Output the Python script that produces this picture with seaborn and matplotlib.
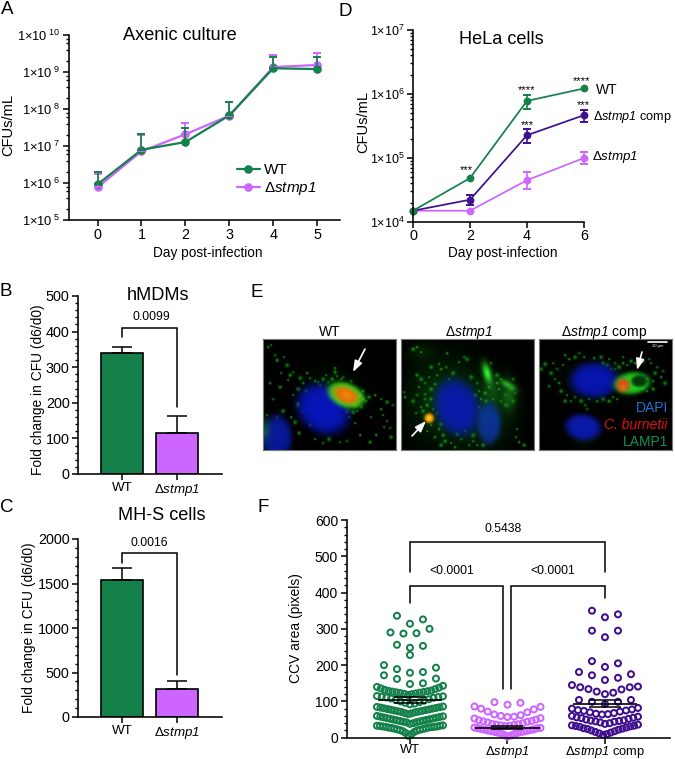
import numpy as np
import pandas as pd
import matplotlib
matplotlib.use("Agg")
import matplotlib.pyplot as plt
from matplotlib.lines import Line2D
from matplotlib.ticker import LogLocator, MultipleLocator, NullFormatter
import seaborn as sns

W, H = 675, 759
GREEN, VIOLET, INDIGO = "#14804A", "#CC66FF", "#3F0F8F"
DSTMP = r"Δ$\mathcal{stmp1}$"
DCOMP = r"Δ$\mathcal{stmp1}$ comp"

# Panel A
a_days = [0, 1, 2, 3, 4, 5]
a_wt = [9.2e5, 7.9e6, 1.28e7, 6.7e7, 1.26e9, 1.2e9]
a_wt_hi = [2.0e6, 2.1e7, 3.0e7, 1.5e8, 2.5e9, 2.5e9]
a_del = [7.6e5, 7.2e6, 2.07e7, 6.6e7, 1.36e9, 1.55e9]
a_del_hi = [1.75e6, 2.0e7, 4.1e7, 1.5e8, 2.8e9, 3.2e9]
# Panel D
d_days = [0, 2, 4, 6]
d_wt = [1.5e4, 4.85e4, 7.8e5, 1.22e6]
d_wt_lo = [1.5e4, 4.85e4, 5.75e5, 1.22e6]
d_wt_hi = [1.5e4, 4.85e4, 9.8e5, 1.22e6]
d_comp = [1.5e4, 2.23e4, 2.27e5, 4.67e5]
d_comp_lo = [1.5e4, 1.86e4, 1.69e5, 3.7e5]
d_comp_hi = [1.5e4, 2.67e4, 2.8e5, 5.6e5]
d_del = [1.5e4, 1.5e4, 4.5e4, 1.0e5]
d_del_lo = [1.5e4, 1.5e4, 3.27e4, 8.1e4]
d_del_hi = [1.5e4, 1.5e4, 5.96e4, 1.23e5]
# Panels B, C
bar_groups = ["WT", DSTMP]
b_vals = [340, 116]
b_hi = [358, 162]
c_vals = [1535, 315]
c_hi = [1675, 408]
# Panel F: values grouped in the rows the figure shows
f_groups = ["WT", DSTMP, DCOMP]
f_wt_rows = [[314, 326, 336], [287, 288, 290, 300], [248, 253, 256], [228],
             [179, 181, 189, 193, 200], [148, 150, 162, 163, 172],
             [118, 120, 121, 122, 123, 124, 125, 126, 127, 128, 129, 130, 132, 134, 136, 138, 140, 143],
             [92, 94, 96, 98, 100, 102, 104, 106, 108, 110, 111, 112, 113, 114, 115],
             [65, 67, 68, 70, 71, 72, 73, 74, 75, 76, 77, 78, 79, 80, 81, 82, 83, 84, 85, 86],
             [38, 40, 42, 43, 44, 45, 46, 47, 48, 49, 50, 51, 52, 53, 54, 55, 56, 57, 58, 59, 60],
             [5, 10, 13, 16, 18, 20, 21, 22, 23, 24, 25, 26, 27, 28, 28, 29, 30, 30, 31, 31, 32, 33, 33, 34]]
f_del_rows = [[91, 96, 98],
              [57, 58, 60, 62, 64, 70, 72, 78, 80, 85, 86],
              [32, 33, 34, 35, 36, 37, 38, 40, 42, 44, 45, 46, 48, 50, 53, 54],
              [3, 6, 8, 10, 12, 13, 14, 15, 16, 17, 18, 19, 20, 21, 22, 23, 24, 26, 26, 27, 28]]
f_comp_rows = [[332, 340, 350], [277, 295, 295], [195, 205, 211], [159, 165, 172, 175, 181],
               [120, 124, 127, 133, 134, 139, 139, 141, 145],
               [93, 99, 99, 104, 104],
               [64, 65, 66, 68, 70, 72, 74, 75, 76, 78, 80, 82],
               [38, 40, 42, 44, 45, 46, 47, 48, 50, 52, 54, 55, 56, 58, 60],
               [8, 10, 12, 14, 16, 18, 20, 22, 24, 25, 26, 28, 30, 31, 32, 33, 34, 36]]
f_means = [103, 28, 94]
f_sems = [8, 3, 9]

# Panel E: (cx, cy, a, b, angle, power, r, g, b, alpha) in panel pixels
e1_blobs = [(72, 50, 30, 18, 20, 1, .0, .4, .05, .18),
            (60, 70, 28, 23, 38, 3, .03, .08, .72, 1),
            (14, 98, 15, 22, 0, 3, .03, .1, .62, .95),
            (2, 90, 5, 12, 0, 1, .1, .6, .1, .4),
            (83, 56, 19, 12, 22, 3, .15, .95, .1, 1),
            (83, 56, 14, 8.5, 22, 2, .92, .4, .03, 1),
            (84, 56, 6, 4, 22, 1, .95, .62, .05, .6)]
e1_dots = [(5, 8), (14, 21), (21, 18), (30, 33), (37, 39), (47, 39), (7, 44), (17, 48), (25, 41), (35, 64),
           (35, 66), (57, 46), (72, 29), (72, 33), (74, 37), (65, 43), (97, 56), (103, 62), (112, 56), (124, 63),
           (120, 76), (127, 89), (90, 73), (77, 103), (97, 96), (107, 103), (4, 76), (14, 78), (32, 83), (40, 72),
           (47, 86), (2, 93), (8, 6), (12, 16), (24, 26), (55, 43), (100, 52), (106, 58), (118, 60), (130, 66),
           (92, 66), (86, 78), (40, 44), (43, 52), (92, 84), (84, 102), (66, 100), (124, 82), (118, 70), (60, 40),
           (78, 40), (88, 42), (69, 40), (63, 36), (52, 42), (100, 60), (94, 72), (98, 68), (35, 50), (30, 56),
           (44, 34), (27, 36), (18, 34), (10, 60), (20, 72), (108, 78), (113, 96), (128, 98), (121, 88), (80, 38),
           (84, 72), (76, 78), (28, 78), (36, 94), (52, 100), (60, 104)]
e2_blobs = [(45, 62, 34, 40, -15, 1, .03, .36, .05, .6),
            (85, 75, 28, 32, 0, 1, .03, .32, .05, .45),
            (20, 12, 14, 8, 0, 1, .05, .3, .05, .35),
            (86, 34, 4, 10, -15, 1, .2, .95, .2, 1),
            (107, 46, 8, 3, 30, 1, .2, .85, .2, .95),
            (108, 56, 7, 15, 0, 1, .1, .5, .1, .7),
            (92, 52, 10, 14, 0, 1, .1, .5, .1, .45),
            (56, 68, 22, 29, -18, 3, .03, .1, .68, .95),
            (88, 84, 12, 21, 0, 3, .05, .2, .62, .9),
            (28, 79, 5, 5, 0, 2, .95, .62, .02, 1),
            (28, 79, 2, 2.5, 0, 1, 1, .85, .1, .9)]
e2_dots = [(16, 8), (12, 10), (20, 13), (63, 18), (66, 20), (58, 23), (46, 14), (30, 28), (38, 25), (45, 28),
           (52, 34), (3, 53), (4, 58), (16, 36), (18, 48), (24, 55), (12, 62), (20, 68), (34, 45), (30, 60),
           (15, 74), (36, 74), (40, 85), (18, 90), (34, 98), (42, 96), (50, 104), (60, 100), (72, 96), (76, 106),
           (80, 60), (85, 62), (92, 60), (100, 62), (105, 66), (115, 98), (118, 103), (123, 106), (116, 90), (76, 44),
           (70, 38), (78, 68), (55, 73), (56, 95), (64, 92), (90, 24), (96, 36), (100, 40), (112, 40), (112, 62),
           (28, 38), (24, 44), (30, 50), (36, 36), (40, 30), (26, 66), (32, 70), (24, 60), (22, 72), (30, 86),
           (38, 90), (44, 102), (26, 92), (16, 56), (20, 40), (48, 40), (88, 48), (84, 54), (98, 50), (104, 56),
           (110, 50), (114, 54), (96, 44), (74, 56), (78, 52), (72, 102), (82, 106), (68, 106), (54, 108), (40, 106)]
e3_blobs = [(60, 42, 40, 20, 0, 1, .02, .26, .05, .25),
            (55, 41, 24, 17.5, 0, 3, .03, .08, .68, 1),
            (44, 88, 18, 13, 8, 3, .04, .1, .66, 1),
            (44, 100, 15, 8, 0, 1, .02, .22, .08, .3),
            (93, 44, 18, 11, -6, 3, .12, .8, .12, 1),
            (100, 42, 8, 6, 0, 3, .0, .12, .02, .85),
            (84, 46, 7, 7, 0, 2, .85, .3, .1, 1),
            (84, 48, 3, 3, 0, 1, .9, .55, .05, .6)]
e3_dots = [(30, 20), (36, 18), (24, 26), (18, 30), (12, 34), (45, 18), (55, 19), (62, 18), (70, 20), (76, 24),
           (6, 25), (16, 40), (10, 47), (22, 52), (28, 56), (36, 58), (42, 62), (50, 60), (58, 62), (70, 62),
           (78, 60), (72, 30), (80, 28), (88, 26), (96, 24), (104, 22), (112, 24), (118, 28), (116, 34), (114, 42),
           (122, 38), (114, 50), (102, 38), (106, 44), (98, 46), (104, 50), (26, 16), (64, 24), (84, 18), (48, 70),
           (2, 30), (14, 24), (20, 44), (26, 62), (32, 62), (46, 66), (64, 60), (74, 58), (84, 24), (92, 22),
           (110, 20), (124, 32), (126, 44), (108, 52), (100, 44), (102, 48), (108, 40), (40, 14), (68, 26), (76, 30)]


def px_axes(fig, left, top, right, bottom, **kw):
    return fig.add_axes([left / W, 1 - bottom / H, (right - left) / W, (bottom - top) / H], **kw)


def ftext(fig, x, y, s, size, ha="center", **kw):
    return fig.text(x / W, 1 - y / H, s, fontsize=size, ha=ha, va="center", **kw)


def style(ax, size=10):
    sns.despine(ax=ax)
    for s in ("left", "bottom"):
        ax.spines[s].set_linewidth(1.15)
    ax.tick_params(which="major", length=4, width=1.1, labelsize=size, pad=2)
    ax.tick_params(which="minor", length=2.4, width=1, pad=2)
    ax.patch.set_alpha(0)


def series(ax, x, lines, ms, lw):
    frame = pd.concat([pd.DataFrame({"x": x, "y": y, "g": n}) for n, y, _ in lines])
    sns.lineplot(data=frame, x="x", y="y", hue="g", palette={n: c for n, _, c in lines},
                 marker="o", markersize=ms, markeredgewidth=0, linewidth=lw,
                 errorbar=None, legend=False, ax=ax)
    for l in ax.lines:
        l.set_clip_on(False)


def bracket(ax, x0, x1, y0, top, y1, lw=1.1):
    ax.plot([x0, x0, x1, x1], [y0, top, top, y1], color="black", lw=lw, clip_on=False,
            solid_joinstyle="miter")


def log_ticks(ax, lo, hi, size, gap, subs):
    ticks = [10.0 ** e for e in range(lo, hi + 1)]
    labels = [f"1×10$^{{{gap}\\mathrm{{{e}}}}}$" for e in range(lo, hi + 1)]
    ax.set_yscale("log")
    ax.set_ylim(10.0 ** lo, 10.0 ** hi)
    ax.set_yticks(ticks, labels)
    ax.yaxis.set_minor_locator(LogLocator(base=10, subs=subs, numticks=20))
    ax.yaxis.set_minor_formatter(NullFormatter())
    ax.tick_params(axis="y", labelsize=size)


def bars(ax, vals, hi, ymax, major, minor, size=10):
    sns.barplot(x=bar_groups, y=vals, hue=bar_groups, palette=[GREEN, VIOLET], order=bar_groups,
                saturation=1, width=0.76, edgecolor="black", linewidth=1.2, errorbar=None,
                legend=False, ax=ax)
    ax.errorbar([0, 1], vals, yerr=[[0, 0], np.array(hi) - np.array(vals)], fmt="none",
                ecolor="black", elinewidth=1.1, capsize=7.5, capthick=1.1)
    ax.set_xlim(-0.8, 1.82)
    ax.set_ylim(0, ymax)
    ax.yaxis.set_major_locator(MultipleLocator(major))
    ax.yaxis.set_minor_locator(MultipleLocator(minor))
    style(ax, size)
    ax.tick_params(axis="x", labelsize=9.6)
    ax.set_xlabel("")
    ax.set_ylabel("")


def row_offsets(row, unit):
    """Column-scatter layout: ascending values alternate outwards from the centre of the group."""
    n = len(row)
    gap = min(13, 66 / max(n - 1, 1)) * unit
    if n % 2:
        return [0.0 if k == 0 else ((k + 1) // 2) * gap * (1 if k % 2 else -1) for k in range(n)]
    return [(k // 2 + 0.5) * gap * (-1 if k % 2 == 0 else 1) for k in range(n)]


def render_panel(blobs, dots, w=133, h=111, k=3):
    yy, xx = np.mgrid[0:h * k, 0:w * k]
    xx = xx / k
    yy = yy / k
    img = np.zeros((h * k, w * k, 3))

    def field(cx, cy, a, b, ang, p):
        t = np.deg2rad(ang)
        u = (xx - cx) * np.cos(t) + (yy - cy) * np.sin(t)
        v = -(xx - cx) * np.sin(t) + (yy - cy) * np.cos(t)
        return np.exp(-((u / a) ** 2 + (v / b) ** 2) ** p)

    haze = [b for b in blobs if b[5] == 1 and b[2] > 8]
    for cx, cy, a, b, ang, p, r, g, bl, al in haze:
        m = al * field(cx, cy, a, b, ang, p)[..., None]
        img = img * (1 - m) + np.array([r, g, bl]) * m
    spot_sizes = [1.15, 1.7, 0.9, 1.35, 2.0, 1.0]
    spot_levels = [.85, .7, .95, .55, .6, .8]
    for i, (cx, cy) in enumerate(dots):
        sz = spot_sizes[i % 6]
        m = spot_levels[i % 6] * field(cx, cy, sz, sz, 0, 1)[..., None]
        img = img * (1 - m) + np.array([.12, .8, .12]) * m
    for blob in blobs:
        if blob in haze:
            continue
        cx, cy, a, b, ang, p, r, g, bl, al = blob
        m = al * field(cx, cy, a, b, ang, p)[..., None]
        img = img * (1 - m) + np.array([r, g, bl]) * m
    return np.clip(img, 0, 1)


sns.set_theme(style="ticks", rc={"axes.edgecolor": "black", "xtick.color": "black", "ytick.color": "black",
                                 "text.color": "black", "axes.labelcolor": "black"})
plt.rcParams["font.family"] = ["Liberation Sans", "DejaVu Sans"]
plt.rcParams["mathtext.fontset"] = "custom"
plt.rcParams["mathtext.rm"] = "Liberation Sans"
plt.rcParams["mathtext.it"] = "Liberation Sans:italic"
plt.rcParams["mathtext.bf"] = "Liberation Sans:bold"
plt.rcParams["mathtext.cal"] = "Liberation Sans:italic"

fig = plt.figure(figsize=(W / 100, H / 100), dpi=100, facecolor="white")

# ---------- A
ax = px_axes(fig, 69, 35, 340, 220)
series(ax, a_days, [("d", a_del, VIOLET), ("w", a_wt, GREEN)], 6.2, 1.6)
ax.errorbar(a_days, a_del, yerr=[[0] * 6, np.array(a_del_hi) - np.array(a_del)], fmt="none", ecolor=VIOLET,
            elinewidth=1.2, capsize=3, capthick=1.4)
ax.errorbar(a_days, a_wt, yerr=[[0] * 6, np.array(a_wt_hi) - np.array(a_wt)], fmt="none", ecolor=GREEN,
            elinewidth=1.2, capsize=3, capthick=1.4)
ax.set_xlim(-0.65, 5.52)
log_ticks(ax, 5, 10, 9.3, r"\ ", [2, 4, 6, 8])
style(ax, 10.4)
ax.tick_params(axis="y", labelsize=9.3)
ax.set_xticks(a_days)
ax.set_xlabel("")
ax.set_ylabel("")
ftext(fig, 180, 36, "Axenic culture", 13.1)
ftext(fig, 208, 253, "Day post-infection", 9.8)
ftext(fig, 8, 125, "CFUs/mL", 10.5, rotation=90)
leg = ax.legend(handles=[Line2D([], [], color=GREEN, marker="o", ms=6.2, mew=0, lw=1.6, label="WT"),
                         Line2D([], [], color=VIOLET, marker="o", ms=6.2, mew=0, lw=1.6, label=DSTMP)],
                loc="center left", bbox_to_anchor=((229 - 69) / 271, (220 - 180) / 185), frameon=False,
                fontsize=11, handlelength=1.55, handletextpad=0.25, labelspacing=0.2, borderpad=0)

# ---------- D
ax = px_axes(fig, 413, 30, 584, 222)
series(ax, d_days, [("d", d_del, VIOLET), ("c", d_comp, INDIGO), ("w", d_wt, GREEN)], 5.6, 1.25)
for mid, lo, hi, c in [(d_del, d_del_lo, d_del_hi, VIOLET), (d_comp, d_comp_lo, d_comp_hi, INDIGO),
                       (d_wt, d_wt_lo, d_wt_hi, GREEN)]:
    mid, lo, hi = map(np.array, (mid, lo, hi))
    keep = hi > mid
    ax.errorbar(np.array(d_days)[keep], mid[keep], yerr=[(mid - lo)[keep], (hi - mid)[keep]], fmt="none",
                ecolor=c, elinewidth=1.2, capsize=3, capthick=1.4, clip_on=False)
ax.set_xlim(0, 6)
log_ticks(ax, 4, 7, 9, "", [2, 3, 4, 5, 6, 7, 8, 9])
style(ax, 10.4)
ax.tick_params(axis="y", labelsize=9)
ax.tick_params(axis="x", pad=1)
ax.set_xticks(d_days)
ax.set_xlabel("")
ax.set_ylabel("")
ftext(fig, 501, 39, "HeLa cells", 13.1)
ftext(fig, 503, 253, "Day post-infection", 9.8)
ftext(fig, 363, 122, "CFUs/mL", 10.5, rotation=90)
ftext(fig, 607, 90, "WT", 10)
ftext(fig, 593, 117, DCOMP, 9.1, ha="left")
ftext(fig, 592, 157, DSTMP, 9.6, ha="left")
for x, y, s in [(466, 170, "***"), (527, 90, "****"), (582, 81, "****"), (527, 125, "***"), (583, 105, "***")]:
    ftext(fig, x, y, s, 8)

# ---------- B
ax = px_axes(fig, 78, 296, 222, 474)
bars(ax, b_vals, b_hi, 500, 100, 20, 10.4)
bracket(ax, 0, 1, 384, 409, 189)
ftext(fig, 158, 296, "hMDMs", 13.1)
ftext(fig, 151, 317, "0.0099", 8.8)
ftext(fig, 38, 390, "Fold change in CFU (d6/d0)", 9.9, rotation=90)

# ---------- C
ax = px_axes(fig, 78, 539, 222, 717)
bars(ax, c_vals, c_hi, 2000, 500, 100, 10.4)
bracket(ax, 0, 1, 1730, 1843, 476)
ftext(fig, 162, 516, "MH-S cells", 13.1)
ftext(fig, 149, 543, "0.0016", 8.8)
ftext(fig, 29, 628, "Fold change in CFU (d6/d0)", 9.9, rotation=90)

# ---------- F
ax = px_axes(fig, 346.5, 520, 670, 737.7)
px_per_group = 97.5
for i, (rows, c) in enumerate(zip((f_wt_rows, f_del_rows, f_comp_rows), (GREEN, VIOLET, INDIGO))):
    xs, vs = [], []
    for row in rows:
        vs += row
        xs += [i + o for o in row_offsets(row, 1 / px_per_group)]
    sns.scatterplot(x=xs, y=vs, s=18.5, color=c, edgecolor=c, linewidth=1.45, legend=False, ax=ax)
    ax.collections[-1].set_facecolor("none")
    ax.collections[-1].set_clip_on(False)
ax.set_xlim(-0.651, 2.667)
ax.set_ylim(0, 600)
ax.set_xticks(range(3), f_groups)
ax.hlines(f_means, np.arange(3) - 0.33, np.arange(3) + 0.33, color="black", lw=1.2, zorder=5)
ax.errorbar(range(3), f_means, yerr=f_sems, fmt="none", ecolor="black", elinewidth=1.1,
            capsize=11.5, capthick=1.1, zorder=5)
ax.yaxis.set_major_locator(MultipleLocator(100))
ax.yaxis.set_minor_locator(MultipleLocator(20))
style(ax, 10)
ax.tick_params(axis="x", labelsize=9.3, pad=0.5)
ax.set_xlabel("")
ax.set_ylabel("")
bracket(ax, 0, 2, 458, 538, 458)
bracket(ax, 0, 0.955, 370, 419, 133)
bracket(ax, 1.04, 2, 133, 419, 384)
ftext(fig, 503, 529, "0.5438", 8.8)
ftext(fig, 452, 571, "<0.0001", 8.8)
ftext(fig, 553, 571, "<0.0001", 8.8)
ftext(fig, 296, 628, "CCV area (pixels)", 10, rotation=90)

# ---------- E
panels = [(263, e1_blobs, e1_dots, "WT", 330, ((102, 10), (90, 33))),
          (401, e2_blobs, e2_dots, DSTMP, 469, ((11, 97), (25, 82))),
          (539, e3_blobs, e3_dots, DCOMP, 604, ((103, 13), (98, 31)))]
for left, blobs, dots, name, cx, (a0, a1) in panels:
    ax = px_axes(fig, left, 339, left + 133, 450)
    ax.imshow(render_panel(blobs, dots), extent=(0, 133, 111, 0), aspect="auto", interpolation="bilinear")
    ax.set_xticks([])
    ax.set_yticks([])
    for s in ax.spines.values():
        s.set_color("#777777")
        s.set_linewidth(0.8)
    ax.annotate("", xy=a1, xytext=a0, arrowprops=dict(arrowstyle="-|>,head_width=0.2,head_length=0.55",
                                                      color="white", lw=1.2, shrinkA=0, shrinkB=0))
    ftext(fig, cx, 332, name, 10)
    if left == 539:
        ax.plot([109, 128], [3, 3], color="white", lw=1.2)
        ax.text(118.5, 7, "10 µm", color="white", fontsize=3, ha="center", va="center")
ftext(fig, 668, 408, "DAPI", 10, ha="right", color="#2070D0")
ftext(fig, 668, 425, "C. burnetii", 10, ha="right", color="#E01010", style="italic")
ftext(fig, 668, 442, "LAMP1", 10, ha="right", color="#109050")

# ---------- letters
for x, y, s in [(7, 10, "A"), (6, 291, "B"), (7, 507, "C"), (345, 12, "D"), (257, 292, "E"), (263, 507, "F")]:
    ftext(fig, x, y, s, 13.5)

fig.savefig("out.png", dpi=100)
